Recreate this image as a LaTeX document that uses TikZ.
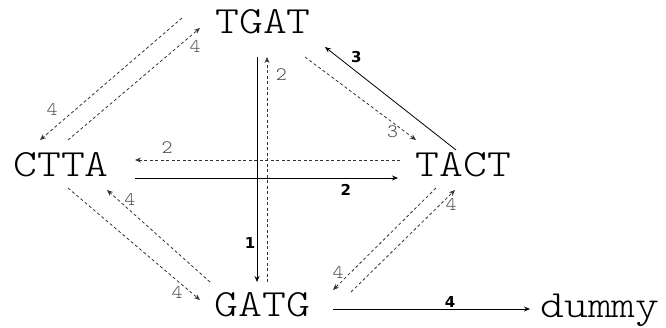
\documentclass[tikz,border=0pt]{standalone}
\usepackage{fontspec}
\newfontfamily\labsans{DejaVu Sans}
\newfontfamily\lightmono{lmmonolt10-regular.otf}
\usetikzlibrary{arrows.meta}
\tikzset{
  seq/.style={font=\lightmono\fontsize{38.5}{38.5}\selectfont, xscale=1.18, inner sep=0pt, anchor=base},
  solidedge/.style={draw=black, line width=0.8pt, -{Stealth[length=6pt,width=5pt]}},
  dashedge/.style={draw=black!80, line width=0.8pt, dash pattern=on 3pt off 2.5pt, -{Stealth[length=6pt,width=5pt]}},
  boldlab/.style={font=\labsans\bfseries\fontsize{15}{15}\selectfont, inner sep=0pt, text=black},
  greylab/.style={font=\lightmono\fontsize{19}{19}\selectfont, xscale=1.1, inner sep=0pt, text=black!70},
}
\begin{document}
\begin{tikzpicture}[x=1pt,y=-1pt]
\useasboundingbox (0,0) rectangle (666,327);
\node[seq] (tgat) at (263,33) {TGAT};
\node[seq] (ctta) at (61,176) {CTTA};
\node[seq] (tact) at (463.5,176) {TACT};
\node[seq] (gatg) at (262.5,316) {GATG};
\node[seq] (dummy) at (600,317) {dummy};

% TGAT <-> CTTA
\draw[dashedge] ([shift={(-81,-15)}]tgat.base) -- ([shift={(-21,-36)}]ctta.base)
  node[greylab, pos=0.9, xshift=-2pt, yshift=18pt] (l1) {4};
\draw[dashedge] ([shift={(7,-36)}]ctta.base) -- ([shift={(-63,-5)}]tgat.base)
  node[greylab, pos=0.95, xshift=1.6pt, yshift=-13.4pt] (l2) {4};
% TACT <-> TGAT
\draw[solidedge] ([shift={(-7.5,-26)}]tact.base) -- ([shift={(62,14)}]tgat.base)
  node[boldlab, pos=0.76, yshift=14.4pt] (l3) {3};
\draw[dashedge] ([shift={(42,24)}]tgat.base) -- ([shift={(-47.5,-36)}]tact.base)
  node[greylab, pos=0.79, yshift=-9.5pt] (l4) {3};
% TGAT <-> GATG
\draw[solidedge] ([shift={(-6,24)}]tgat.base) -- ([shift={(-5.5,-34)}]gatg.base)
  node[boldlab, pos=0.827, xshift=-7pt] (l5) {1};
\draw[dashedge] ([shift={(4.5,-34)}]gatg.base) -- ([shift={(4,24)}]tgat.base)
  node[greylab, pos=0.92, xshift=13pt] (l6) {2};
% TACT <-> CTTA
\draw[dashedge] ([shift={(-63.5,-16)}]tact.base) -- ([shift={(74,-16)}]ctta.base)
  node[greylab, pos=0.879, yshift=12pt] (l7) {2};
\draw[solidedge] ([shift={(74,2)}]ctta.base) -- ([shift={(-65.5,2)}]tact.base)
  node[boldlab, pos=0.802, yshift=-12pt] (l8) {2};
% CTTA <-> GATG
\draw[dashedge] ([shift={(7,12)}]ctta.base) -- ([shift={(-62.5,-16)}]gatg.base)
  node[greylab, pos=0.826, yshift=-12.5pt] (l9) {4};
\draw[dashedge] ([shift={(-52.5,-34)}]gatg.base) -- ([shift={(46,14)}]ctta.base)
  node[greylab, pos=0.777, yshift=10.5pt] (l10) {4};
% GATG <-> TACT
\draw[dashedge] ([shift={(88.5,-24)}]gatg.base) -- ([shift={(-8.5,14)}]tact.base)
  node[greylab, pos=0.962, yshift=-11pt] (l11) {4};
\draw[dashedge] ([shift={(-27.5,12)}]tact.base) -- ([shift={(70.5,-26)}]gatg.base)
  node[greylab, pos=0.951, yshift=12pt] (l12) {4};
% GATG -> dummy
\draw[solidedge] ([shift={(70.5,-7)}]gatg.base) -- ([shift={(-70,-8)}]dummy.base)
  node[boldlab, pos=0.594, yshift=7pt] (l13) {4};
\end{tikzpicture}
\end{document}
